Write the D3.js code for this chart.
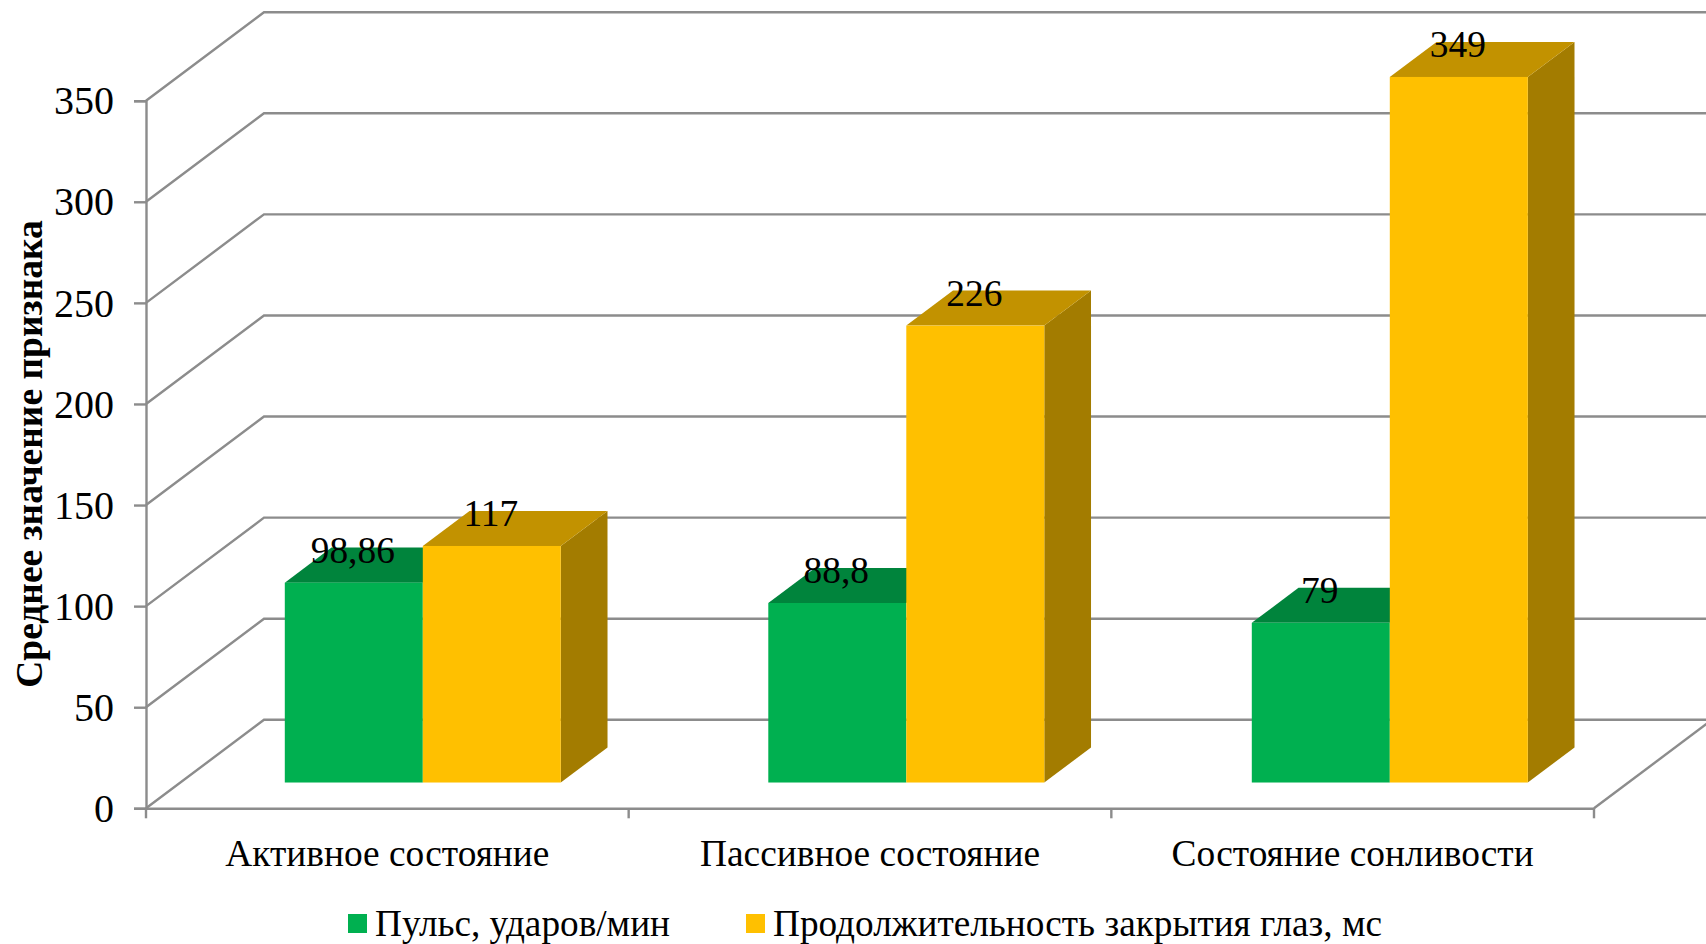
<!DOCTYPE html>
<html><head><meta charset="utf-8">
<script src="https://cdn.jsdelivr.net/npm/d3@7/dist/d3.min.js"></script>
<style>html,body{margin:0;padding:0;background:#fff;overflow:hidden}svg{display:block}text{font-family:"Liberation Serif",serif;fill:#000}</style>
</head><body><svg id="c" width="1706" height="944"></svg>
<script>
const categories = ["Активное состояние","Пассивное состояние","Состояние сонливости"];
const seriesNames = ["Пульс, ударов/мин","Продолжительность закрытия глаз, мс"];
const pulse = [98.86,88.8,79];
const closure = [117,226,349];
const pulseLabels = ["98,86","88,8","79"];
const closureLabels = ["117","226","349"];
const yTicks = [0,50,100,150,200,250,300,350];
const frontColors = ["#00B050","#FFC000"];
const topColors = ["#00843C","#C29200"];
const sideColor = "#A37C00";
const gridColor = "#8C8C8C";

const svg = d3.select("#c");
const fs = 37.4;
const x0=146,x1=1594,y0=808.3,yT=100.7;
const DX=118,DY=88.5;
const lw=2.4;
const y = d3.scaleLinear().domain([0,350]).range([y0,yT]);
const x = d3.scaleBand().domain(categories).range([x0,x1]);
const bx = d3.scaleBand().domain(categories).range([x0,x1+2.5]);
const depthF = 0.297, depthB = 0.693;
const sx = d3.scaleBand().domain(seriesNames).range([-138,138]);
const h = v => y0 - y(v);
const barBase = y0 - DY*depthF + 0.5;
const barShiftX = DX*depthF;
const ddx = DX*(depthB-depthF), ddy = DY*(depthB-depthF);

const grid = svg.append("g").attr("fill","none").attr("stroke",gridColor).attr("stroke-width",lw);
grid.selectAll("path").data(yTicks).join("path")
  .attr("d",v=>d3.line()([[x0,y(v)],[x0+DX,y(v)-DY],[1706,y(v)-DY]]));
grid.append("path").attr("d",d3.line()([[x1,y0],[x1+DX,y0-DY]]));

const yAxis = svg.append("g").attr("transform",`translate(${x0},0)`)
  .call(d3.axisLeft(y).tickValues(yTicks).tickSize(12).tickPadding(20).tickFormat(d3.format("d")));
yAxis.selectAll("path,line").attr("stroke",gridColor).attr("stroke-width",lw);
yAxis.selectAll("text").attr("font-size",40).attr("font-family","Liberation Serif").attr("dy","0.33em");

const xAxis = svg.append("g").attr("transform",`translate(0,${y0})`)
  .call(d3.axisBottom(x).tickSize(0).tickPadding(0));
xAxis.select("path").attr("stroke",gridColor).attr("stroke-width",lw);
xAxis.selectAll("line").remove();
xAxis.selectAll("text").attr("font-size",fs).attr("font-family","Liberation Serif").attr("y",58).attr("dy",0);
svg.append("g").attr("stroke",gridColor).attr("stroke-width",lw)
  .selectAll("line").data(d3.range(categories.length+1)).join("line")
  .attr("x1",i=>x0+i*x.bandwidth()).attr("x2",i=>x0+i*x.bandwidth()).attr("y1",y0).attr("y2",y0+10);

const rows = categories.flatMap((c,i)=>[
 {c,s:seriesNames[0],v:pulse[i],k:0,label:pulseLabels[i]},
 {c,s:seriesNames[1],v:closure[i],k:1,label:closureLabels[i]}]);
const px = d => bx(d.c)+bx.bandwidth()/2+barShiftX+sx(d.s);
const pw = sx.bandwidth();
const bars = svg.append("g");
bars.selectAll("path.side").data(rows.filter(d=>d.k===1)).join("path").attr("class","side").attr("fill",sideColor)
  .attr("d",d=>{const r=px(d)+pw,t=barBase-h(d.v);return d3.line()([[r,t],[r+ddx,t-ddy],[r+ddx,barBase-ddy],[r,barBase]])+"Z"});
bars.selectAll("path.top").data(rows).join("path").attr("class","top").attr("fill",d=>topColors[d.k])
  .attr("d",d=>{const l=px(d),t=barBase-h(d.v);return d3.line()([[l,t],[l+ddx,t-ddy],[l+pw+ddx,t-ddy],[l+pw,t]])+"Z"});
bars.selectAll("rect").data(rows).join("rect").attr("fill",d=>frontColors[d.k])
  .attr("x",px).attr("width",pw).attr("y",d=>barBase-h(d.v)).attr("height",d=>h(d.v));
svg.append("g").selectAll("text").data(rows).join("text")
  .attr("font-size",fs).attr("text-anchor","middle")
  .attr("x",d=>px(d)+pw/2-1).attr("y",d=>barBase-h(d.v)-20).text(d=>d.label);

svg.append("text").attr("transform","translate(42,454) rotate(-90)").attr("text-anchor","middle")
  .attr("font-size",37.5).attr("font-weight","bold").text("Среднее значение признака");

const legendX=[348,746];
const lg=svg.append("g").selectAll("g").data(seriesNames).join("g").attr("transform",(d,i)=>`translate(${legendX[i]},0)`);
lg.append("rect").attr("y",914).attr("width",19).attr("height",19).attr("fill",(d,i)=>frontColors[i]);
lg.append("text").attr("x",27).attr("y",935.5).attr("font-size",37.25).text(d=>d);
</script></body></html>
